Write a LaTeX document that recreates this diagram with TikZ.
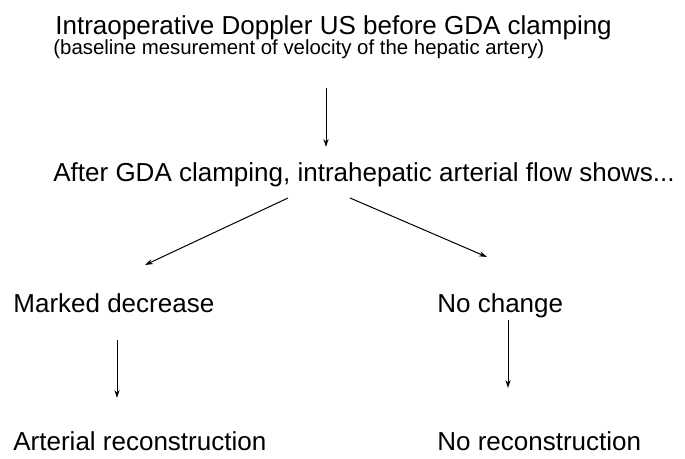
\documentclass[tikz,border=0pt]{standalone}
\usepackage{fontspec}
\setmainfont{Liberation Sans}
\usetikzlibrary{calc,arrows.meta}

\begin{document}
\begin{tikzpicture}[x=0.5pt,y=-0.5pt,
	txt/.style={anchor=base west,inner sep=0pt,font=\fontsize{13}{15}\selectfont},
	small/.style={anchor=base west,inner sep=0pt,font=\fontsize{10.2}{12}\selectfont},
	flow/.style={-{Stealth[length=4pt,width=2.6pt]},line width=0.5pt}]

	\useasboundingbox (0,0) rectangle (685,459);

	\node[txt] (before) at (55,35) {Intraoperative Doppler US before GDA clamping};
	\node[small] (baseline) at (53,55) {(baseline mesurement of velocity of the hepatic artery)};
	\node[txt] (after) at (53,182) {After GDA clamping, intrahepatic arterial flow shows...};
	\draw[flow] ($(baseline.base west)+(273,33)$) -- ($(after.base west)+(273,-35)$);

	\node[txt] (decrease) at (13,313) {Marked decrease};
	\node[txt] (nochange) at (437,313) {No change};
	\draw[flow] ($(after.base west)+(235,16)$) -- ($(decrease.base west)+(132,-48)$);
	\draw[flow] ($(after.base west)+(297,16)$) -- ($(nochange.base west)+(50,-56)$);

	\node[txt] (recon) at (13,451) {Arterial reconstruction};
	\node[txt] (norecon) at (437,451) {No reconstruction};
	\draw[flow] ($(decrease.base west)+(104,27)$) -- ($(recon.base west)+(104,-53)$);
	\draw[flow] ($(nochange.base west)+(71,7)$) -- ($(norecon.base west)+(71,-63)$);

\end{tikzpicture}
\end{document}
